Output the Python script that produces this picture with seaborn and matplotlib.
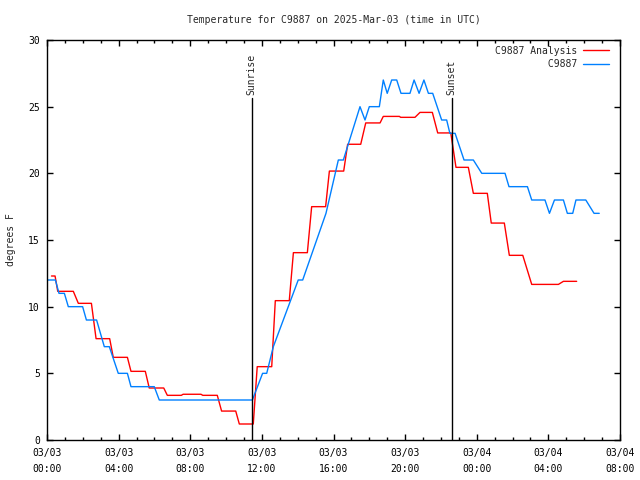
import matplotlib
matplotlib.use("Agg")
import matplotlib.pyplot as plt
from matplotlib.ticker import MultipleLocator
import seaborn as sns
import pandas as pd

title = "Temperature for C9887 on 2025-Mar-03 (time in UTC)"
ylabel = "degrees F"
series_names = ["C9887 Analysis", "C9887"]
series_colors = ["#ff0000", "#0080ff"]

# hours since 2025-03-03 00:00 UTC
analysis_hours = [0.25, 0.45, 0.6, 1.47, 1.75, 2.48, 2.74, 3.5, 3.7, 4.49, 4.69, 5.49, 5.71,
                  6.52, 6.72, 7.5, 7.6, 8.6, 8.7, 9.51, 9.75, 10.54, 10.74, 11.52, 11.74,
                  12.55, 12.75, 13.53, 13.76, 14.54, 14.78, 15.56, 15.77, 16.57, 16.79,
                  17.52, 17.8, 18.6, 18.78, 19.68, 19.75, 20.55, 20.83, 21.52, 21.82,
                  22.55, 22.84, 23.53, 23.81, 24.59, 24.81, 25.54, 25.82, 26.57, 27.07,
                  28.56, 28.84, 29.58]
analysis_temp = [12.3, 12.3, 11.15, 11.15, 10.25, 10.25, 7.6, 7.6, 6.2, 6.2, 5.15, 5.15, 3.9,
                 3.9, 3.35, 3.35, 3.43, 3.43, 3.35, 3.35, 2.17, 2.17, 1.2, 1.2, 5.5,
                 5.5, 10.45, 10.45, 14.05, 14.05, 17.5, 17.5, 20.17, 20.17, 22.18,
                 22.18, 23.78, 23.78, 24.27, 24.27, 24.2, 24.2, 24.57, 24.57, 23.03,
                 23.03, 20.45, 20.45, 18.5, 18.5, 16.27, 16.27, 13.85, 13.85, 11.67,
                 11.67, 11.9, 11.9]

obs_hours = [0.0, 0.47, 0.67, 0.97, 1.19, 1.99, 2.2, 2.77, 3.2, 3.48, 3.98, 4.49, 4.69, 5.99,
             6.27, 11.47, 12.04, 12.27, 12.64, 14.03, 14.28, 15.58, 16.27, 16.55, 17.48,
             17.76, 18.0, 18.56, 18.78, 19.0, 19.25, 19.53, 19.77, 20.27, 20.5, 20.78,
             21.05, 21.3, 21.54, 22.04, 22.32, 22.5, 22.79, 23.29, 23.81, 24.28, 25.58,
             25.8, 26.83, 27.07, 27.81, 28.06, 28.34, 28.84, 29.06, 29.36, 29.54, 30.09,
             30.55, 30.84]
obs_temp = [12, 12, 11, 11, 10, 10, 9, 9, 7, 7, 5, 5, 4, 4,
            3, 3, 5, 5, 7, 12, 12, 17, 21, 21, 25,
            24, 25, 25, 27, 26, 27, 27, 26, 26, 27, 26,
            27, 26, 26, 24, 24, 23, 23, 21, 21, 20, 20,
            19, 19, 18, 18, 17, 18, 18, 17, 17, 18, 18,
            17, 17]

sun_hours = [11.43, 22.6]
sun_labels = ["Sunrise", "Sunset"]

xtick_hours = [0, 4, 8, 12, 16, 20, 24, 28, 32]
xtick_labels = ["03/03\n00:00", "03/03\n04:00", "03/03\n08:00", "03/03\n12:00",
                "03/03\n16:00", "03/03\n20:00", "03/04\n00:00", "03/04\n04:00",
                "03/04\n08:00"]
yticks = [0, 5, 10, 15, 20, 25, 30]

sns.set_style("ticks")
plt.rcParams['font.family'] = ['DejaVu Sans Mono', 'DejaVu Sans']
plt.rcParams['font.size'] = 7

df_a = pd.DataFrame({"hour": analysis_hours, "temp": analysis_temp})
df_o = pd.DataFrame({"hour": obs_hours, "temp": obs_temp})

fig = plt.figure(figsize=(6.4, 4.8), dpi=100)
ax = fig.add_axes([47/640, 40/480, 573/640, 400/480])

sns.lineplot(data=df_a, x="hour", y="temp", ax=ax, color=series_colors[0], lw=1.0,
             label=series_names[0], sort=False, estimator=None)
sns.lineplot(data=df_o, x="hour", y="temp", ax=ax, color=series_colors[1], lw=1.0,
             label="         " + series_names[1], sort=False, estimator=None)

for h, lab in zip(sun_hours, sun_labels):
    ax.plot([h, h], [0, 25.65], color="black", lw=1.0)
    ax.text(h, 25.9, lab, rotation=90, ha="center", va="bottom", fontsize=7)

ax.set_xlim(0, 32)
ax.set_ylim(0, 30)
ax.set_xticks(xtick_hours)
ax.set_xticklabels(xtick_labels, linespacing=1.75)
ax.xaxis.set_minor_locator(MultipleLocator(1))
ax.set_yticks(yticks)
ax.tick_params(which="both", direction="in", top=True, right=True, color="black",
               width=1.0, labelsize=7, labelcolor="black")
ax.tick_params(which="major", length=4)
ax.tick_params(which="minor", length=2)
ax.tick_params(axis="x", which="major", pad=6)
ax.tick_params(axis="y", which="major", pad=5)
for s in ax.spines.values():
    s.set_color("black")
    s.set_linewidth(1.0)

ax.set_xlabel("")
ax.set_ylabel(ylabel, fontsize=7)
ax.yaxis.set_label_coords(-0.054, 0.5)
ax.set_title(title, fontsize=7, pad=12)

leg = ax.legend(loc="upper right", bbox_to_anchor=(1 - 5/573, 1.0), markerfirst=False,
                frameon=False, fontsize=7, handlelength=2.7, handletextpad=0.6,
                labelspacing=0.35, borderpad=0.0, borderaxespad=0.6)

fig.savefig("out.png", dpi=100)
